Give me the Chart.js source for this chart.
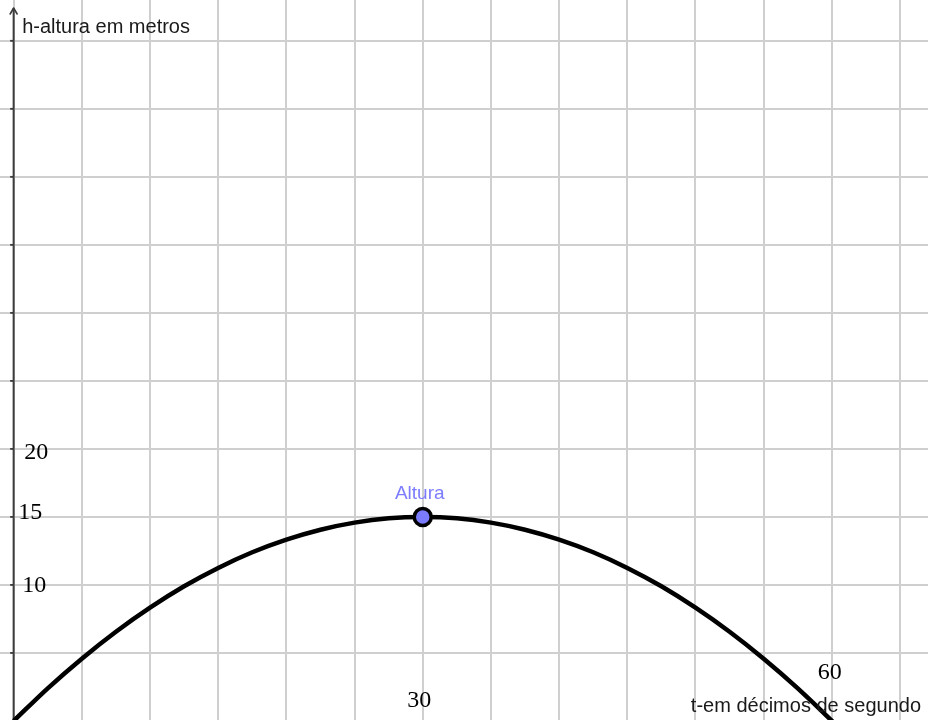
<!DOCTYPE html>
<html>
<head>
<meta charset="utf-8">
<script src="https://cdn.jsdelivr.net/npm/chart.js@4.4.1/dist/chart.umd.min.js"></script>
<style>
html,body{margin:0;padding:0;background:#fff;}
#wrap{width:928px;height:720px;position:relative;}
</style>
</head>
<body>
<div id="wrap"><canvas id="c"></canvas></div>
<script>
// t (décimos de segundo) and h (metros)
const tValues = [0, 2.5, 5, 7.5, 10, 12.5, 15, 17.5, 20, 22.5, 25, 27.5, 30, 32.5, 35, 37.5, 40, 42.5, 45, 47.5, 50, 52.5, 55, 57.5, 60, 62.5];
const hValues = [0, 2.4, 4.58, 6.56, 8.33, 9.9, 11.25, 12.4, 13.33, 14.06, 14.58, 14.9, 15, 14.9, 14.58, 14.06, 13.33, 12.4, 11.25, 9.9, 8.33, 6.56, 4.58, 2.4, 0, -2.6];
const pointT = [30];
const pointH = [15];
const pointLabel = 'Altura';
const xTickValues = [30, 60];
const xTickLabels = ['30', '60'];
const yTickValues = [10, 15, 20];
const yTickLabels = ['10', '15', '20'];
const yAxisTitle = 'h-altura em metros';
const xAxisTitle = 't-em décimos de segundo';

const curve = tValues.map((t, i) => ({x: t, y: hValues[i]}));
const pts = pointT.map((t, i) => ({x: t, y: pointH[i]}));

const overlay = {
  id: 'overlay',
  beforeDatasetsDraw(chart) {
    const ctx = chart.ctx;
    const xs = chart.scales.x, ys = chart.scales.y;
    const x0 = xs.getPixelForValue(0);
    ctx.save();
    ctx.strokeStyle = '#3c3c3c';
    ctx.lineWidth = 2;
    ctx.beginPath();
    ctx.moveTo(x0, 8);
    ctx.lineTo(x0, chart.height);
    ctx.stroke();
    ctx.lineWidth = 1.6;
    ctx.lineCap = 'round';
    ctx.lineJoin = 'round';
    ctx.beginPath();
    ctx.moveTo(x0 - 3.5, 14);
    ctx.lineTo(x0, 8);
    ctx.lineTo(x0 + 3.5, 14);
    ctx.stroke();
    ctx.lineCap = 'butt';
    ctx.lineWidth = 1.8;
    for (let v = 5; v <= 50; v += 5) {
      const y = ys.getPixelForValue(v);
      ctx.beginPath();
      ctx.moveTo(x0 - 3.5, y);
      ctx.lineTo(x0, y);
      ctx.stroke();
    }
    ctx.restore();
  },
  afterDraw(chart) {
    const ctx = chart.ctx;
    const xs = chart.scales.x, ys = chart.scales.y;
    const x0 = xs.getPixelForValue(0);
    ctx.save();
    ctx.fillStyle = '#000';
    ctx.font = '24px "Liberation Serif", "DejaVu Serif", serif';
    ctx.textBaseline = 'alphabetic';
    const yOff = {'10': [8.5, 7], '15': [4.5, 2], '20': [10.5, 10]};
    yTickValues.forEach((v, i) => {
      const lab = yTickLabels[i];
      const o = yOff[lab] || [8, 6];
      ctx.textAlign = 'left';
      ctx.fillText(lab, x0 + o[0], ys.getPixelForValue(v) + o[1]);
    });
    const xOff = {'30': [-3.5, 707], '60': [-2, 679]};
    xTickValues.forEach((v, i) => {
      const lab = xTickLabels[i];
      const o = xOff[lab] || [0, 700];
      ctx.textAlign = 'center';
      ctx.fillText(lab, xs.getPixelForValue(v) + o[0], o[1]);
    });
    ctx.font = '20px "Liberation Sans", Arial, sans-serif';
    ctx.textAlign = 'left';
    ctx.fillStyle = '#1a1a1a';
    ctx.fillText(yAxisTitle, x0 + 8.5, 33);
    ctx.textAlign = 'right';
    ctx.fillText(xAxisTitle, 921, 712);
    ctx.fillStyle = '#7c7cff';
    ctx.font = '19px "Liberation Sans", Arial, sans-serif';
    ctx.textAlign = 'center';
    const px = xs.getPixelForValue(pointT[0]);
    const py = ys.getPixelForValue(pointH[0]);
    ctx.fillText(pointLabel, px - 3, py - 18);
    ctx.restore();
  }
};

new Chart(document.getElementById('c'), {
  type: 'scatter',
  data: {
    datasets: [
      {
        data: pts,
        pointRadius: 8.5,
        pointBorderWidth: 3.5,
        pointBackgroundColor: '#7b7bff',
        pointBorderColor: '#000',
        pointHoverRadius: 8.5,
        showLine: false,
        order: 0
      },
      {
        data: curve,
        showLine: true,
        borderColor: '#000',
        borderWidth: 4.5,
        pointRadius: 0,
        cubicInterpolationMode: 'monotone',
        fill: false,
        order: 1
      }
    ]
  },
  options: {
    responsive: true,
    maintainAspectRatio: false,
    animation: false,
    layout: {padding: 0, autoPadding: false},
    plugins: {legend: {display: false}, tooltip: {enabled: false}},
    events: [],
    scales: {
      x: {
        type: 'linear',
        min: -1.0,
        max: 67.05,
        ticks: {display: false, stepSize: 5, includeBounds: false},
        grid: {color: '#cfcfcf', lineWidth: 2, drawTicks: false},
        border: {display: false}
      },
      y: {
        type: 'linear',
        min: 0.07,
        max: 53.0,
        ticks: {display: false, stepSize: 5, includeBounds: false},
        grid: {color: '#cfcfcf', lineWidth: 2, drawTicks: false},
        border: {display: false}
      }
    }
  },
  plugins: [overlay]
});
</script>
</body>
</html>
